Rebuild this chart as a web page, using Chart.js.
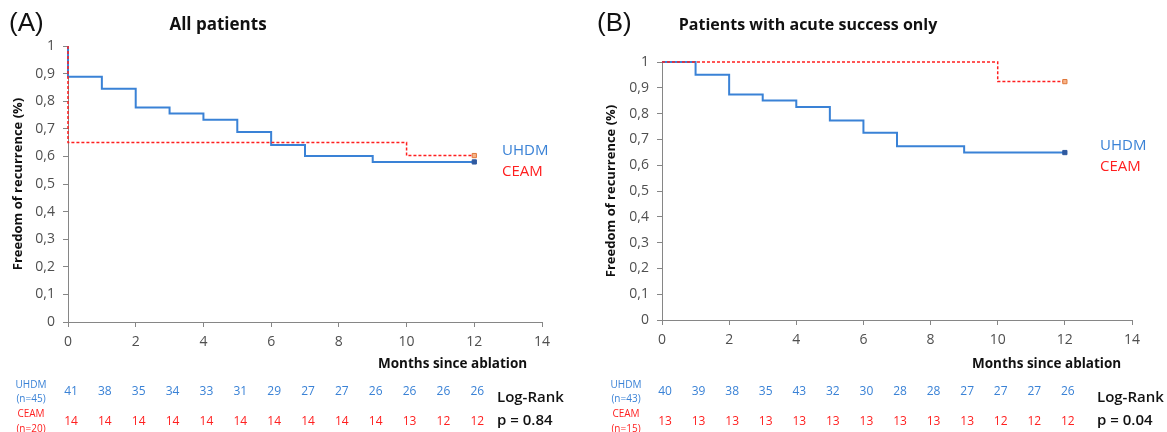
<!DOCTYPE html>
<html>
<head>
<meta charset="utf-8">
<script src="https://cdn.jsdelivr.net/npm/chart.js@4/dist/chart.umd.min.js"></script>
<style>
html, body { margin: 0; padding: 0; background: #fff; }
#wrap { position: relative; width: 1167px; height: 432px; }
canvas { position: absolute; top: 0; }
#chartA { left: 0; }
#chartB { left: 585px; }
</style>
</head>
<body>
<div id="wrap">
  <canvas id="chartA" width="585" height="432"></canvas>
  <canvas id="chartB" width="582" height="432"></canvas>
</div>
<script>
// Kaplan-Meier steps
const uhdmTimesA = [0, 0, 1, 2, 3, 4, 5, 6, 7, 9, 12];
const uhdmSurvA  = [1, 0.889, 0.845, 0.777, 0.755, 0.733, 0.688, 0.641, 0.601, 0.580, 0.580];
const ceamTimesA = [0, 0, 10, 12];
const ceamSurvA  = [1, 0.650, 0.603, 0.603];

const uhdmTimesB = [0, 1, 2, 3, 4, 5, 6, 7, 9, 12];
const uhdmSurvB  = [1, 0.951, 0.874, 0.851, 0.826, 0.773, 0.726, 0.673, 0.649, 0.649];
const ceamTimesB = [0, 10, 12];
const ceamSurvB  = [1, 0.924, 0.924];

// patients at risk, months 0..12
const riskMonths = [0, 1, 2, 3, 4, 5, 6, 7, 8, 9, 10, 11, 12];
const uhdmRiskA = [41, 38, 35, 34, 33, 31, 29, 27, 27, 26, 26, 26, 26];
const ceamRiskA = [14, 14, 14, 14, 14, 14, 14, 14, 14, 14, 13, 12, 12];
const uhdmRiskB = [40, 39, 38, 35, 43, 32, 30, 28, 28, 27, 27, 27, 26];
const ceamRiskB = [13, 13, 13, 13, 13, 13, 13, 13, 13, 13, 12, 12, 12];

const BLUE = '#3a82d6';
const RED = '#ff1f1f';
const AXIS = '#868686';
const TICK = '#4f4f4f';
const FONT = "'Open Sans', sans-serif";

const toPoints = (t, s) => t.map((x, i) => ({ x: x, y: s[i] }));

const lastOnly = (r) => (ctx) => ctx.dataIndex === ctx.dataset.data.length - 1 ? r : 0;

// extra texts around each panel: label, title, legend, at-risk table, log-rank
const panelText = {
  id: 'panelText',
  afterDraw(chart, args, o) {
    const ctx = chart.ctx;
    const xs = chart.scales.x;
    ctx.save();
    ctx.textBaseline = 'middle';

    ctx.fillStyle = '#111';
    ctx.font = "26px 'Liberation Sans', Arial, sans-serif";
    ctx.textAlign = 'left';
    ctx.fillText(o.label, o.labelX, 24);

    ctx.font = 'bold ' + o.titleSize + 'px ' + FONT;
    ctx.textAlign = 'center';
    ctx.fillText(o.title, o.titleX, 25);

    ctx.font = '15px ' + FONT;
    ctx.textAlign = 'left';
    ctx.fillStyle = BLUE;
    ctx.fillText('UHDM', o.legendX, o.legendY);
    ctx.fillStyle = RED;
    ctx.fillText('CEAM', o.legendX, o.legendY + 21);

    ctx.fillStyle = '#111';
    ctx.font = 'bold 13.5px ' + FONT;
    ctx.fillText('Months since ablation', o.xTitleX, 364);

    // at-risk table
    ctx.textAlign = 'center';
    ctx.font = '10px ' + FONT;
    ctx.fillStyle = BLUE;
    ctx.fillText('UHDM', o.rowLabelX, 385);
    ctx.fillText(o.nU, o.rowLabelX, 399);
    ctx.fillStyle = RED;
    ctx.fillText('CEAM', o.rowLabelX, 414);
    ctx.fillText(o.nC, o.rowLabelX, 429);

    ctx.font = '12px ' + FONT;
    riskMonths.forEach((m, i) => {
      const px = xs.getPixelForValue(m) + 3;
      ctx.fillStyle = BLUE;
      ctx.fillText(String(o.riskU[i]), px, 392);
      ctx.fillStyle = RED;
      ctx.fillText(String(o.riskC[i]), px, 422);
    });

    ctx.fillStyle = '#111';
    ctx.textAlign = 'left';
    ctx.font = '600 15px ' + FONT;
    ctx.fillText('Log-Rank', o.logX, 398);
    ctx.fillText(o.p, o.logX, 421);
    ctx.restore();
  }
};

function yLabel(v) {
  if (v === 0 || v === 1) return String(v);
  return v.toFixed(1).replace('.', ',');
}

function makeChart(id, uT, uS, cT, cS, pad, yWidth, texts) {
  return new Chart(document.getElementById(id), {
    type: 'line',
    data: {
      datasets: [
        {
          label: 'CEAM',
          data: toPoints(cT, cS),
          stepped: 'before',
          borderColor: RED,
          borderWidth: 1.5,
          borderDash: [3, 2],
          pointStyle: 'rect',
          pointRadius: lastOnly(3),
          pointBackgroundColor: '#f6b48a',
          pointBorderColor: '#e0783a',
          pointBorderWidth: 1,
          clip: false
        },
        {
          label: 'UHDM',
          data: toPoints(uT, uS),
          stepped: 'before',
          borderColor: BLUE,
          borderWidth: 2,
          pointStyle: 'rect',
          pointRadius: lastOnly(3),
          pointBackgroundColor: '#2f5aa0',
          pointBorderColor: '#2f5aa0',
          pointBorderWidth: 1,
          clip: false
        }
      ]
    },
    options: {
      responsive: false,
      animation: false,
      layout: { padding: pad },
      plugins: {
        legend: { display: false },
        tooltip: { enabled: false },
        panelText: texts
      },
      scales: {
        x: {
          type: 'linear',
          min: 0,
          max: 14,
          ticks: { stepSize: 2, color: TICK, font: { family: FONT, size: 14 }, padding: 7 },
          grid: { drawOnChartArea: false, tickLength: 5, color: AXIS },
          border: { color: AXIS },
          afterFit: (s) => { s.height = 30; }
        },
        y: {
          min: 0,
          max: 1,
          ticks: { stepSize: 0.1, color: TICK, font: { family: FONT, size: 14 }, padding: 8, callback: yLabel },
          grid: { drawOnChartArea: false, tickLength: 5, color: AXIS },
          border: { color: AXIS },
          title: {
            display: true,
            text: 'Freedom of recurrence (%)',
            color: '#111',
            font: { family: FONT, size: 13, weight: 'bold' },
            padding: { top: 10, bottom: 0 }
          },
          afterFit: (s) => { s.width = yWidth; }
        }
      }
    },
    plugins: [panelText]
  });
}

makeChart('chartA', uhdmTimesA, uhdmSurvA, ceamTimesA, ceamSurvA,
  { left: 0, top: 46, right: 43, bottom: 80 }, 68,
  { label: '(A)', labelX: 9, title: 'All patients', titleSize: 17, titleX: 218,
    legendX: 502, legendY: 151, xTitleX: 378, rowLabelX: 31,
    nU: '(n=45)', nC: '(n=20)', riskU: uhdmRiskA, riskC: ceamRiskA,
    logX: 497, p: 'p = 0.84' });

makeChart('chartB', uhdmTimesB, uhdmSurvB, ceamTimesB, ceamSurvB,
  { left: 8, top: 62, right: 35, bottom: 82 }, 69,
  { label: '(B)', labelX: 12, title: 'Patients with acute success only', titleSize: 16, titleX: 223,
    legendX: 515, legendY: 146, xTitleX: 387, rowLabelX: 41,
    nU: '(n=43)', nC: '(n=15)', riskU: uhdmRiskB, riskC: ceamRiskB,
    logX: 512, p: 'p = 0.04' });
</script>
</body>
</html>
